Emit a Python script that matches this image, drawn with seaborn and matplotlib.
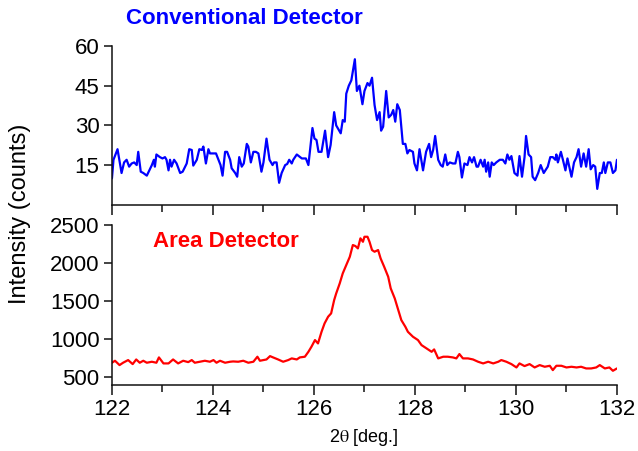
import matplotlib
matplotlib.use("Agg")
import matplotlib.pyplot as plt
from matplotlib.ticker import MultipleLocator
import seaborn as sns

# Conventional detector (top panel), 2theta in deg and counts
conv_2theta = [
    122.00, 122.03, 122.11, 122.19, 122.24, 122.29, 122.34, 122.39, 122.44, 122.49,
    122.52, 122.57, 122.62, 122.69, 122.79, 122.83, 122.85, 122.88, 122.95, 123.00,
    123.05, 123.08, 123.12, 123.15, 123.18, 123.23, 123.28, 123.35, 123.40, 123.48,
    123.53, 123.58, 123.61, 123.68, 123.73, 123.78, 123.81, 123.86, 123.91, 123.94,
    124.01, 124.06, 124.11, 124.15, 124.19, 124.24, 124.28, 124.34, 124.37, 124.44,
    124.48, 124.52, 124.57, 124.61, 124.67, 124.70, 124.75, 124.80, 124.85, 124.90,
    124.96, 125.00, 125.06, 125.12, 125.18, 125.21, 125.26, 125.31, 125.36, 125.43,
    125.47, 125.51, 125.56, 125.59, 125.66, 125.76, 125.84, 125.89, 125.97, 126.01,
    126.05, 126.09, 126.15, 126.22, 126.28, 126.33, 126.40, 126.44, 126.53, 126.57,
    126.61, 126.64, 126.69, 126.74, 126.81, 126.85, 126.90, 126.96, 127.00, 127.06,
    127.10, 127.15, 127.20, 127.25, 127.30, 127.33, 127.37, 127.43, 127.48, 127.53,
    127.57, 127.61, 127.65, 127.70, 127.76, 127.81, 127.85, 127.89, 127.96, 127.99,
    128.04, 128.09, 128.16, 128.22, 128.28, 128.32, 128.36, 128.40, 128.46, 128.51,
    128.55, 128.60, 128.64, 128.69, 128.75, 128.80, 128.85, 128.88, 128.93, 128.98,
    129.04, 129.08, 129.13, 129.17, 129.22, 129.25, 129.30, 129.35, 129.38, 129.41,
    129.45, 129.48, 129.52, 129.56, 129.61, 129.68, 129.74, 129.79, 129.83, 129.87,
    129.91, 129.97, 130.03, 130.07, 130.12, 130.17, 130.20, 130.25, 130.30, 130.33,
    130.38, 130.44, 130.49, 130.55, 130.63, 130.68, 130.73, 130.78, 130.80, 130.83,
    130.89, 130.93, 130.98, 131.02, 131.10, 131.15, 131.20, 131.24, 131.29, 131.34,
    131.39, 131.44, 131.48, 131.53, 131.57, 131.61, 131.66, 131.70, 131.74, 131.77,
    131.82, 131.87, 131.92, 131.97, 132.00,
]
conv_counts = [
    10, 17, 21, 12, 16, 17, 14.4, 15.6, 16, 15,
    20, 12.5, 12, 11, 15, 17, 14.4, 19, 18, 17.5,
    18, 17, 13, 17, 14.4, 17, 15.6, 12, 12.5, 15.6,
    21, 20.7, 14.8, 17, 21, 20.7, 22, 15.6, 21, 19.4,
    19.4, 19.4, 17, 15, 11, 20, 20, 17, 13.8, 12,
    10.6, 18, 14.4, 15.6, 23, 22, 16, 20, 20, 19.4,
    12.5, 16, 25, 17, 15, 16, 16, 8.3, 12, 15,
    15.4, 17, 15.6, 17, 19, 17.5, 17.5, 15, 29, 25,
    24.5, 20, 20, 28, 18, 22.6, 35, 30, 27, 32,
    31.4, 42, 45, 47, 55, 43, 45, 38, 43, 46,
    45, 48, 37.7, 32, 35, 28, 29.5, 43, 33, 34,
    35.8, 31.4, 38, 35.8, 23, 23, 19.4, 20.7, 20, 15.6,
    13, 21, 13, 20, 23, 18, 20.7, 26, 17, 15,
    14.4, 19, 15, 16, 15.6, 15.6, 20, 18, 10.3, 15.6,
    15, 18, 16, 18, 14.4, 14.4, 17, 14.4, 17, 12.5,
    16, 10.6, 16, 15, 16, 17, 17, 15.6, 19, 17,
    18.4, 12, 11, 18.4, 10.6, 18, 26, 19, 18, 10.6,
    9.3, 12, 15, 12, 14.4, 18, 18, 17, 19, 16,
    20, 17, 13, 17.5, 10.6, 16, 18, 21, 14.4, 19.4,
    14.4, 21, 13.4, 15, 14.4, 6, 12, 12, 16, 12,
    16, 16, 12, 13, 17,
]

# Area detector (bottom panel)
area_2theta = [
    122.00, 122.06, 122.15, 122.22, 122.32, 122.41, 122.48, 122.55, 122.62, 122.69,
    122.79, 122.88, 122.93, 123.02, 123.12, 123.21, 123.31, 123.41, 123.51, 123.58,
    123.64, 123.74, 123.84, 123.94, 124.01, 124.07, 124.14, 124.24, 124.34, 124.40,
    124.50, 124.60, 124.70, 124.80, 124.88, 124.93, 125.06, 125.13, 125.19, 125.29,
    125.39, 125.49, 125.56, 125.66, 125.72, 125.82, 125.89, 125.95, 126.02, 126.08,
    126.15, 126.21, 126.28, 126.34, 126.40, 126.44, 126.51, 126.57, 126.64, 126.71,
    126.77, 126.82, 126.87, 126.92, 126.97, 127.00, 127.06, 127.10, 127.15, 127.20,
    127.27, 127.32, 127.39, 127.43, 127.47, 127.52, 127.60, 127.65, 127.73, 127.81,
    127.86, 127.96, 128.06, 128.13, 128.23, 128.33, 128.38, 128.46, 128.56, 128.65,
    128.75, 128.82, 128.88, 128.95, 129.05, 129.15, 129.25, 129.35, 129.45, 129.55,
    129.65, 129.71, 129.81, 129.91, 130.01, 130.07, 130.17, 130.27, 130.37, 130.47,
    130.57, 130.67, 130.73, 130.80, 130.90, 131.00, 131.10, 131.20, 131.29, 131.39,
    131.49, 131.59, 131.66, 131.76, 131.85, 131.92, 132.00,
]
area_counts = [
    689, 715, 658, 689, 724, 671, 732, 689, 715, 689,
    702, 689, 759, 680, 680, 732, 680, 715, 697, 724,
    689, 702, 715, 702, 724, 689, 715, 689, 702, 706,
    702, 715, 689, 702, 768, 715, 732, 776, 759, 732,
    702, 724, 746, 732, 759, 768, 833, 899, 987, 943,
    1096, 1206, 1294, 1338, 1513, 1600, 1732, 1864, 1974, 2083,
    2237, 2224, 2193, 2325, 2280, 2346, 2346, 2280, 2171, 2149,
    2171, 2061, 1952, 1886, 1820, 1667, 1535, 1425, 1250, 1162,
    1096, 1031, 987, 921, 877, 833, 864, 746, 768, 768,
    759, 746, 803, 746, 746, 732, 702, 680, 702, 680,
    702, 724, 702, 671, 627, 680, 645, 671, 627, 658,
    636, 649, 592, 649, 649, 627, 636, 627, 636, 614,
    614, 627, 658, 614, 627, 583, 614,
]

conv_yticks = [15, 30, 45, 60]
area_yticks = [500, 1000, 1500, 2000, 2500]
x_ticks = [122, 124, 126, 128, 130, 132]

sns.set_style("ticks")
plt.rcParams['font.family'] = ['Liberation Sans', 'DejaVu Sans']
plt.rcParams['mathtext.fontset'] = 'stix'
plt.rcParams['text.color'] = 'black'
plt.rcParams['xtick.color'] = 'black'
plt.rcParams['ytick.color'] = 'black'

fig = plt.figure(figsize=(6.38, 4.51), dpi=100)
ax_top = fig.add_axes([0.1755, 0.546, 0.7915, 0.352])
ax_bot = fig.add_axes([0.1755, 0.147, 0.7915, 0.354])

sns.lineplot(x=conv_2theta, y=conv_counts, ax=ax_top, color='#0000ff', lw=1.6)
sns.lineplot(x=area_2theta, y=area_counts, ax=ax_bot, color='#ff0000', lw=1.6)

for ax in (ax_top, ax_bot):
    ax.set_xlim(122, 132)
    ax.set_xticks(x_ticks)
    ax.xaxis.set_minor_locator(MultipleLocator(1))
    for side in ('top', 'right'):
        ax.spines[side].set_visible(False)
    for side in ('left', 'bottom'):
        ax.spines[side].set_color('#111111')
        ax.spines[side].set_linewidth(1.1)
    ax.tick_params(which='major', length=7, width=1.1, color='#111111',
                   labelcolor='black', labelsize=16, pad=3)
    ax.tick_params(which='minor', length=5, width=1.1, color='#111111')
    ax.tick_params(axis='y', length=6)
    ax.set_xlabel('')
    ax.set_ylabel('')

ax_top.set_ylim(0, 60)
ax_top.set_yticks(conv_yticks)
ax_top.tick_params(axis='x', labelbottom=False)

ax_bot.set_ylim(400, 2500)
ax_bot.set_yticks(area_yticks)

fig.text(244 / 638, 1 - 19 / 451, 'Conventional Detector', color='#0000ff',
         fontsize=16, fontweight='bold', ha='center', va='center')
ax_bot.text(226 / 638, 1 - 241 / 451, 'Area Detector', color='#ff0000',
            fontsize=16, fontweight='bold', ha='center', va='center',
            transform=fig.transFigure)

fig.text(20 / 638, 1 - 214 / 451, 'Intensity (counts)', rotation=90,
         fontsize=17, ha='center', va='center')
fig.text(364 / 638, 1 - 437 / 451, r'2$\mathrm{\theta}$ [deg.]', fontsize=13,
         ha='center', va='center')

fig.savefig('out.png', dpi=100)
